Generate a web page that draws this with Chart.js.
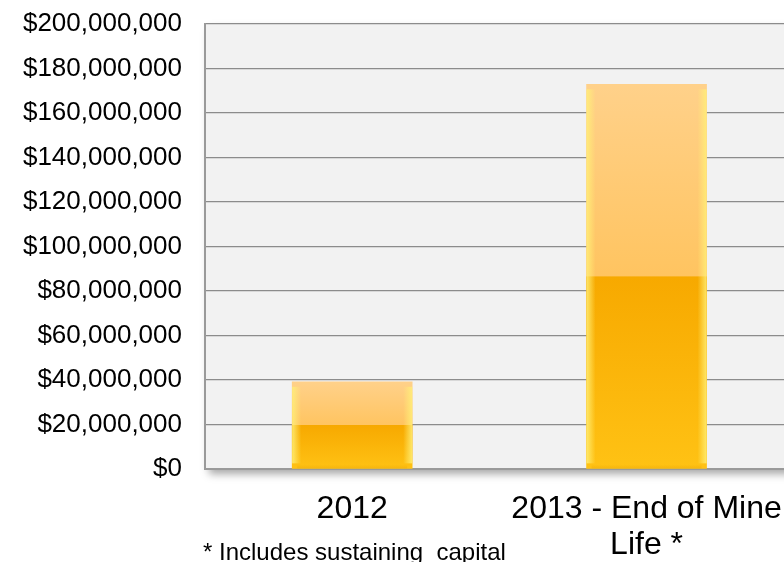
<!DOCTYPE html>
<html>
<head>
<meta charset="utf-8">
<script src="https://cdn.jsdelivr.net/npm/chart.js@4"></script>
<style>
  html, body { margin: 0; padding: 0; background: #fff; overflow: hidden; }
  #wrap { position: relative; width: 806px; height: 562px; }
  #nota {
    position: absolute; left: 203px; top: 540px;
    font-family: "Liberation Sans", Arial, sans-serif; font-size: 24px; line-height: 24px;
    color: #000; white-space: pre;
  }
</style>
</head>
<body>
<div id="wrap">
  <canvas id="grafico" width="806" height="562"></canvas>
  <div id="nota">* Includes sustaining  capital</div>
</div>
<script>
// Dados do gráfico
const categorias = ["2012", ["2013 - End of Mine", "Life *"]];
const valores = [39200000, 172900000];
const eixoMin = 0;
const eixoMax = 200000000;
const eixoPasso = 20000000;

// Fundo cinza da área do gráfico com sombra
const fundoPlugin = {
    id: "fundo",
    beforeDraw(chart) {
        const { ctx, chartArea: a } = chart;
        ctx.save();
        ctx.shadowColor = "rgba(0,0,0,0.35)";
        ctx.shadowBlur = 8;
        ctx.shadowOffsetX = 4;
        ctx.shadowOffsetY = 5;
        ctx.fillStyle = "#f2f2f2";
        ctx.fillRect(a.left, a.top, a.right - a.left, a.bottom - a.top);
        ctx.restore();
    }
};

// Brilho nas laterais das barras
const brilhoPlugin = {
    id: "brilho",
    afterDatasetsDraw(chart) {
        const ctx = chart.ctx;
        chart.getDatasetMeta(0).data.forEach(function (bar) {
            const esq = bar.x - bar.width / 2;
            const dir = bar.x + bar.width / 2;
            const topo = bar.y;
            const base = bar.base;
            let g = ctx.createLinearGradient(esq, 0, esq + 9, 0);
            g.addColorStop(0, "rgba(255,240,120,0.85)");
            g.addColorStop(1, "rgba(255,240,120,0)");
            ctx.fillStyle = g;
            ctx.fillRect(esq, topo + 5, 9, base - topo - 10);
            g = ctx.createLinearGradient(dir, 0, dir - 9, 0);
            g.addColorStop(0, "rgba(255,240,120,0.85)");
            g.addColorStop(1, "rgba(255,240,120,0)");
            ctx.fillStyle = g;
            ctx.fillRect(dir - 9, topo + 5, 9, base - topo - 10);
            // borda inferior levemente mais escura
            g = ctx.createLinearGradient(0, base - 4, 0, base);
            g.addColorStop(0, "rgba(230,160,0,0)");
            g.addColorStop(1, "rgba(230,160,0,0.35)");
            ctx.fillStyle = g;
            ctx.fillRect(esq + 5, base - 4, bar.width - 10, 4);
        });
    }
};

function corBarra(context) {
    const chart = context.chart;
    if (!chart.chartArea) return "#ffc000";
    const y = chart.scales.y;
    const topo = y.getPixelForValue(context.parsed ? context.parsed.y : context.raw);
    const base = y.getPixelForValue(0);
    const g = chart.ctx.createLinearGradient(0, topo, 0, base);
    g.addColorStop(0, "#ffd18a");
    g.addColorStop(0.499, "#ffc460");
    g.addColorStop(0.5, "#f7a900");
    g.addColorStop(1, "#ffc214");
    return g;
}

const ctx = document.getElementById("grafico").getContext("2d");
new Chart(ctx, {
    type: "bar",
    data: {
        labels: categorias,
        datasets: [{
            data: valores,
            backgroundColor: corBarra,
            borderWidth: 0,
            barThickness: 120
        }]
    },
    options: {
        responsive: false,
        animation: false,
        layout: { padding: { top: 24, left: 0, right: 5, bottom: 0 } },
        plugins: {
            legend: { display: false },
            tooltip: { enabled: false }
        },
        scales: {
            x: {
                grid: { display: false, drawTicks: false },
                border: { display: true, color: "#9a9a9a", width: 2 },
                ticks: {
                    color: "#000",
                    padding: 23,
                    font: { family: "Liberation Sans", size: 32, lineHeight: 1.1 }
                },
                afterFit(scale) {
                    scale.height = 93;
                    scale.paddingTop = 0;
                    scale.paddingBottom = 0;
                }
            },
            y: {
                min: eixoMin,
                max: eixoMax,
                grid: { color: "#8c8c8c", lineWidth: 1.3, drawTicks: false },
                border: { display: true, color: "#9a9a9a", width: 2 },
                ticks: {
                    stepSize: eixoPasso,
                    color: "#000",
                    padding: 23,
                    font: { family: "Liberation Sans", size: 26 },
                    callback: function (v) { return "$" + v.toLocaleString("en-US"); }
                },
                afterFit(scale) {
                    scale.width = 205;
                    scale.paddingTop = 0;
                    scale.paddingBottom = 0;
                }
            }
        }
    },
    plugins: [fundoPlugin, brilhoPlugin]
});
</script>
</body>
</html>
